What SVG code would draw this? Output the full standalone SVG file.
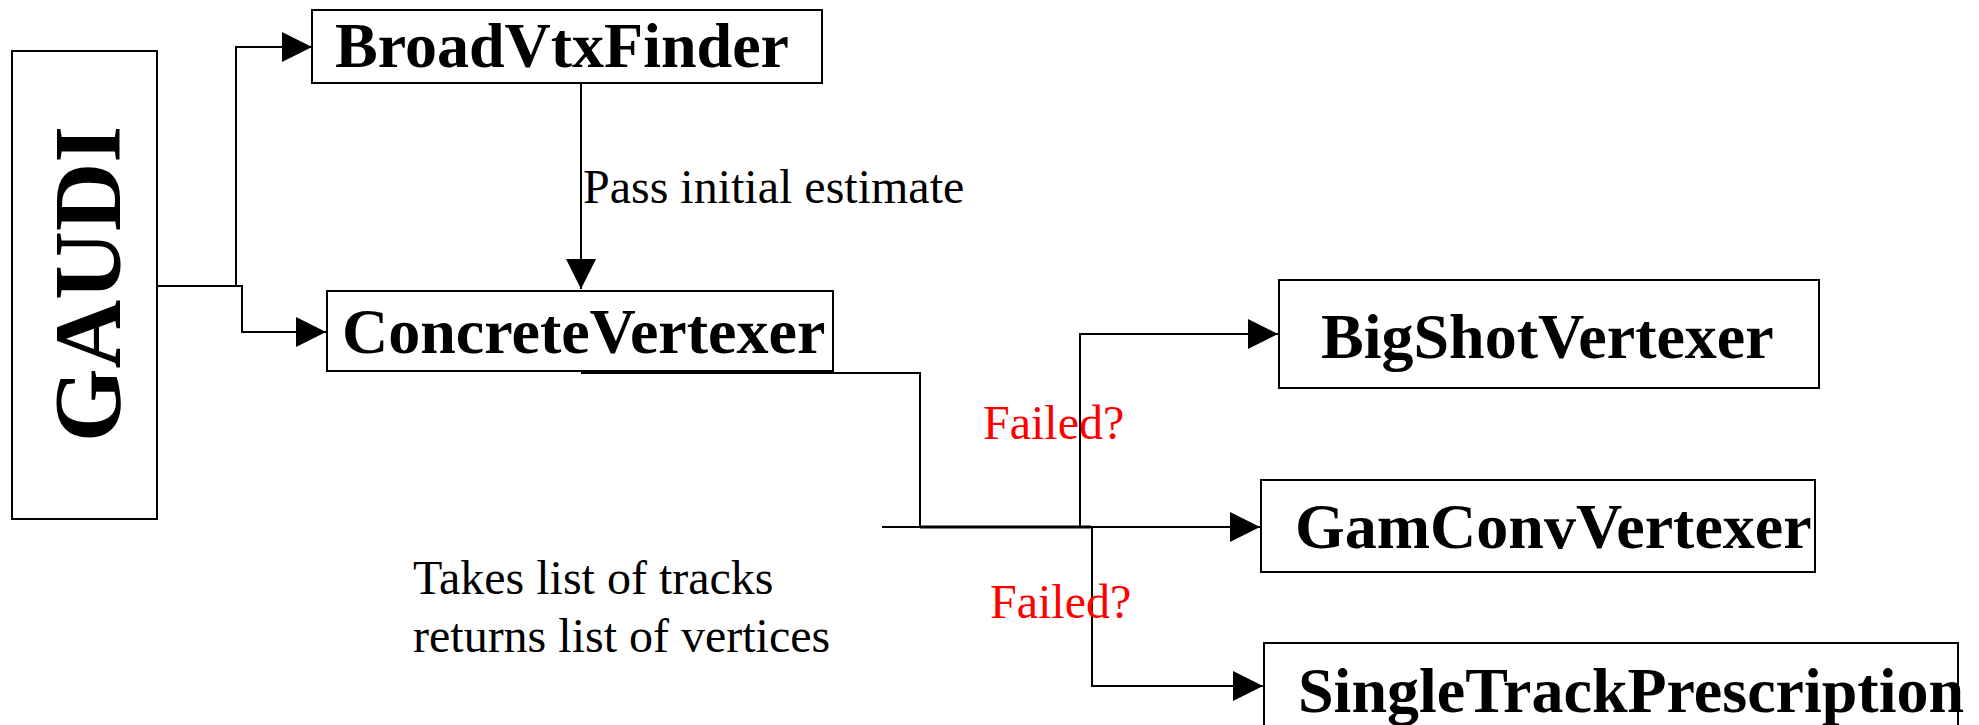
<svg xmlns="http://www.w3.org/2000/svg" width="1979" height="725" viewBox="0 0 1979 725">
<style>
.box{fill:#fff;stroke:#000;stroke-width:2}
.nt{font-family:"Liberation Serif","Times New Roman",serif;font-weight:bold;font-size:64px;fill:#000}
.lbl{font-family:"Liberation Serif","Times New Roman",serif;font-size:48px;fill:#000}
.red{fill:#ff0000}
.ln{fill:none;stroke:#000;stroke-width:2}
</style>
<defs>
<marker id="ah" markerUnits="userSpaceOnUse" markerWidth="30" markerHeight="30" refX="30" refY="15" orient="auto">
<path d="M0,0 L30,15 L0,30 Z" fill="#000"/>
</marker>
</defs>
<rect width="1979" height="725" fill="#fff"/>
<g id="connectors">
<polyline class="ln" points="157,286 236,286 236,47 312,47" marker-end="url(#ah)"/>
<polyline class="ln" points="236,286 242,286 242,332 326,332" marker-end="url(#ah)"/>
<line class="ln" x1="581" y1="83" x2="581" y2="289" marker-end="url(#ah)"/>
<polyline class="ln" points="581,373 920,373 920,527"/>
<line class="ln" x1="882" y1="527" x2="1260" y2="527" marker-end="url(#ah)"/>
<line x1="920" y1="527" x2="1091" y2="527" stroke="#000" stroke-width="3"/>
<polyline class="ln" points="1080,527 1080,334 1278,334" marker-end="url(#ah)"/>
<polyline class="ln" points="1092,527 1092,686 1263,686" marker-end="url(#ah)"/>
</g>
<g id="gaudi">
<rect class="box" x="12" y="51" width="145" height="468"/>
<text class="nt" style="font-size:95px" text-anchor="middle" transform="translate(120,284) rotate(-90)">GAUDI</text>
</g>
<g id="broadvtxfinder">
<rect class="box" x="312" y="10" width="510" height="73"/>
<text class="nt" x="335" y="67">BroadVtxFinder</text>
</g>
<g id="concretevertexer">
<rect class="box" x="327" y="291" width="506" height="80"/>
<text class="nt" x="342" y="353">ConcreteVertexer</text>
</g>
<g id="bigshotvertexer">
<rect class="box" x="1279" y="280" width="540" height="108"/>
<text class="nt" x="1321" y="358">BigShotVertexer</text>
</g>
<g id="gamconvvertexer">
<rect class="box" x="1261" y="480" width="554" height="92"/>
<text class="nt" x="1295" y="548">GamConvVertexer</text>
</g>
<g id="singletrackprescription">
<rect class="box" x="1264" y="643" width="694" height="100"/>
<text class="nt" x="1298" y="712">SingleTrackPrescription</text>
</g>
<g id="labels">
<text class="lbl" x="583" y="203">Pass initial estimate</text>
<text class="lbl red" x="983" y="439">Failed?</text>
<text class="lbl red" x="990" y="618">Failed?</text>
<text class="lbl" x="413" y="594">Takes list of tracks</text>
<text class="lbl" x="413" y="652">returns list of vertices</text>
</g>
</svg>
